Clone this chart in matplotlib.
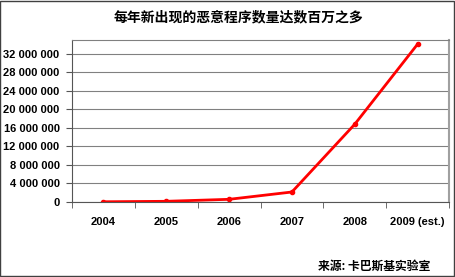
import matplotlib.pyplot as plt
import numpy as np
from matplotlib.ticker import FuncFormatter

years = ['2004', '2005', '2006', '2007', '2008', '2009 (est.)']
counts = [50000, 150000, 580000, 2160000, 16800000, 34100000]
yticks = [0, 4000000, 8000000, 12000000, 16000000, 20000000, 24000000, 28000000, 32000000]

title = '每年新出现的恶意程序数量达数百万之多'
source = '来源: 卡巴斯基实验室'

cjk = ['Noto Sans CJK SC', 'DejaVu Sans']

fig = plt.figure(figsize=(4.55, 2.77), dpi=100)
ax = fig.add_axes([72 / 455, 1 - 202 / 277, 377 / 455, 162 / 277])

x = np.arange(len(years))
ax.plot(x, counts, color='#ff0000', linewidth=2, marker='o', markersize=3)

ax.set_xlim(-0.5, len(years) - 0.5)
ax.set_ylim(0, 35000000)
ax.set_yticks(yticks)
ax.yaxis.set_major_formatter(FuncFormatter(lambda v, p: f'{int(v):,}'.replace(',', ' ')))
ax.set_xticks(x)
ax.set_xticklabels(years)
ax.set_xticks(np.arange(len(years) + 1) - 0.5, minor=True)
ax.tick_params(axis='x', which='major', length=0, pad=11)
ax.tick_params(axis='x', which='minor', length=4, color='#555555', direction='out')
ax.tick_params(axis='y', length=4, color='#555555', direction='out', pad=5)
for lbl in ax.get_xticklabels() + ax.get_yticklabels():
    lbl.set_fontfamily('Liberation Sans')
    lbl.set_fontweight('bold')
    lbl.set_fontsize(8)

ax.grid(axis='y', color='#808080', linewidth=0.8)
ax.set_axisbelow(True)
ax.spines['left'].set_color('#555555')
ax.spines['bottom'].set_color('#555555')
ax.spines['top'].set_color('#808080')
ax.spines['right'].set_color('#a0a0a0')
ax.spines['right'].set_linewidth(1.5)

fig.text(238 / 455, 1 - 17 / 277, title, ha='center', va='center',
         family=cjk, fontsize=10, fontweight='bold')
fig.text(430 / 455, 1 - 266 / 277, source, ha='right', va='center',
         family=cjk, fontsize=8.5, fontweight='bold')

# outer frame
fig.patches.append(plt.Rectangle((0.001, 0.002), 0.996, 0.996, transform=fig.transFigure,
                                 fill=False, edgecolor='#404040', linewidth=1))

fig.savefig('out.png', dpi=100)
